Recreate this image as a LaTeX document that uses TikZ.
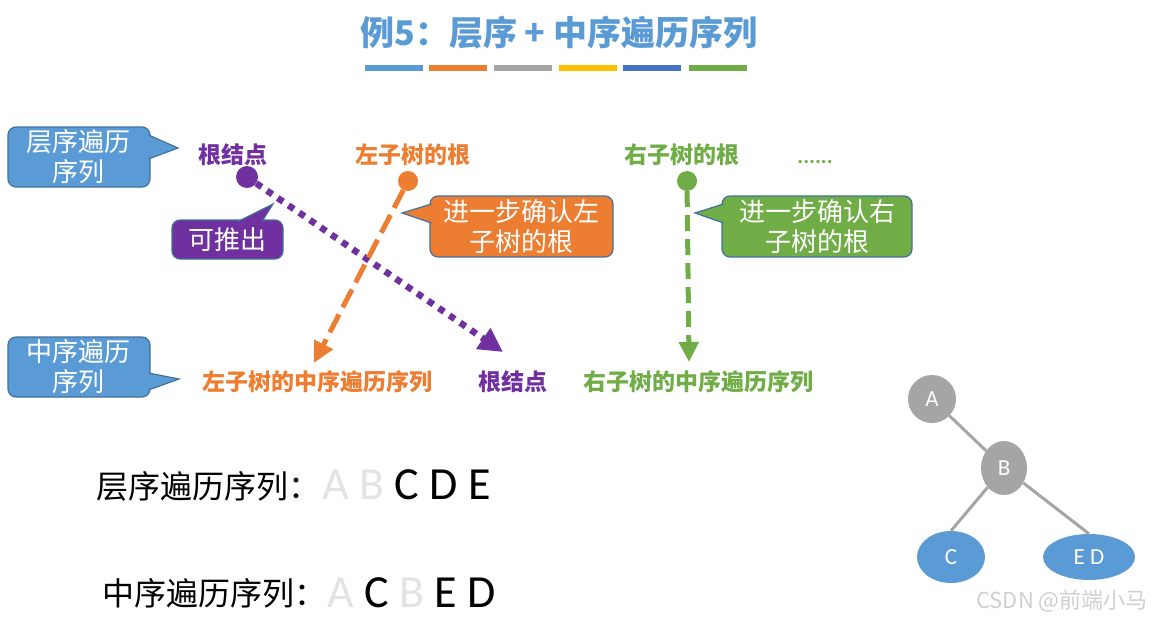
\documentclass[tikz,border=0pt]{standalone}
\usepackage{fontspec}
\setmainfont{Carlito}
\newfontfamily\cjk{Noto Sans CJK SC}
\usetikzlibrary{arrows.meta,shapes.geometric}
\definecolor{cblue}{HTML}{5B9BD5}
\definecolor{corange}{HTML}{ED7D31}
\definecolor{cgray}{HTML}{A5A5A5}
\definecolor{cyellow}{HTML}{FFC000}
\definecolor{cdblue}{HTML}{4472C4}
\definecolor{cgreen}{HTML}{70AD47}
\definecolor{cpurple}{HTML}{7030A0}
\definecolor{cborder}{HTML}{41719C}
\definecolor{clight}{HTML}{E3E3E3}
\definecolor{cwater}{HTML}{CFCFCF}
\begin{document}
\begin{tikzpicture}[x=1pt,y=-1pt,
  box/.style={draw=cborder, line width=1.2pt, rounded corners=8pt, text=white,
    font=\cjk\fontsize{26}{30}\selectfont, align=center, inner sep=0pt},
  ptr/.style={draw=cborder, line width=1.2pt, line join=miter},
  lab/.style={font=\cjk\bfseries\fontsize{23}{23}\selectfont, inner sep=0pt},
  bar/.style={line width=6pt},
  dot/.style={circle, inner sep=0pt},
  tnode/.style={ellipse, inner sep=0pt, text=white, font=\fontsize{23}{23}\selectfont},
  tedge/.style={draw=cgray, line width=3pt},
  bigtxt/.style={font=\cjk\fontsize{32}{32}\selectfont, inner sep=0pt, anchor=base west},
  letters/.style={font=\fontsize{46}{46}\selectfont, inner sep=0pt, anchor=base west}
]
\useasboundingbox (0,0) rectangle (1154,621);

% title
\node[font=\cjk\bfseries\fontsize{34}{34}\selectfont, text=cblue, inner sep=0pt] (title) at (559,33) {例5：层序 + 中序遍历序列};
\draw[bar, cblue]   (365,68) -- (423,68);
\draw[bar, corange] (429,68) -- (487,68);
\draw[bar, cgray]   (494,68) -- (552,68);
\draw[bar, cyellow] (559,68) -- (617,68);
\draw[bar, cdblue]  (623,68) -- (681,68);
\draw[bar, cgreen]  (689,68) -- (747,68);

% callout: level order
\node[box, fill=cblue, minimum width=142pt, minimum height=60pt] (lvl) at (79,157) {层序遍历\\序列};
\coordinate (lvltip) at (178,148);
\fill[cblue] (148.5,135) -- (lvltip) -- (148.5,159) -- cycle;
\draw[ptr] (148.5,135) -- (lvltip) -- (148.5,159);

% callout: in order
\node[box, fill=cblue, minimum width=142pt, minimum height=60pt] (ino) at (79,367) {中序遍历\\序列};
\coordinate (inotip) at (179,379);
\fill[cblue] (148.5,373) -- (inotip) -- (148.5,390) -- cycle;
\draw[ptr] (148.5,373) -- (inotip) -- (148.5,390);

% top labels
\node[lab, text=cpurple] (root1) at (233,155) {根结点};
\node[lab, text=corange] (lroot) at (413,155) {左子树的根};
\node[lab, text=cgreen] (rroot) at (682,155) {右子树的根};
\node[font=\bfseries\fontsize{22}{22}\selectfont, text=cgreen, inner sep=0pt, anchor=base] (more) at (815,163) {......};

% bottom labels
\node[lab, text=corange] (lseq) at (317,382) {左子树的中序遍历序列};
\node[lab, text=cpurple] (root2) at (513,382) {根结点};
\node[lab, text=cgreen] (rseq) at (698,382) {右子树的中序遍历序列};

% dots
\node[dot, fill=cpurple, minimum size=22pt] (pd) at (247,177) {};
\node[dot, fill=corange, minimum size=20pt] (od) at (408,181) {};
\node[dot, fill=cgreen, minimum size=20pt] (gd) at (687,181) {};
\coordinate (ptip) at (503,352);
\coordinate (otip) at (314,363);
\coordinate (gtip) at (689,362);

% arrows
\draw[cpurple, line width=6.5pt, dash pattern=on 6.5pt off 6.5pt,
  -{Triangle[length=24pt,width=24pt]}] (pd) -- (ptip);
\draw[corange, line width=5pt, dash pattern=on 20pt off 8pt,
  -{Triangle[length=21pt,width=20pt]}] (od) -- (otip);
\draw[cgreen, line width=5pt, dash pattern=on 16pt off 8pt,
  -{Triangle[length=20pt,width=19pt]}] (gd) -- (gtip);

% callout: 可推出
\node[box, fill=cpurple, minimum width=111pt, minimum height=39pt] (infer) at (227.5,239.5) {可推出};
\coordinate (infertip) at (273,204);
\fill[cpurple] (238,221.5) -- (infertip) -- (262,221.5) -- cycle;
\draw[ptr] (238,221.5) -- (infertip) -- (262,221.5);

% callout: orange
\node[box, fill=corange, minimum width=183pt, minimum height=61pt] (oc) at (521.5,226.5) {进一步确认左\\子树的根};
\coordinate (octip) at (402,213);
\fill[corange] (431.5,204) -- (octip) -- (431.5,223) -- cycle;
\draw[ptr] (431.5,204) -- (octip) -- (431.5,223);

% callout: green
\node[box, fill=cgreen, minimum width=190pt, minimum height=61pt] (gc) at (817,226.5) {进一步确认右\\子树的根};
\coordinate (gctip) at (695,213);
\fill[cgreen] (723.5,204) -- (gctip) -- (723.5,223) -- cycle;
\draw[ptr] (723.5,204) -- (gctip) -- (723.5,223);

% sequences
\node[bigtxt] (lvllab) at (96,498) {层序遍历序列：};
\node[letters] (lvlseq) at (322,499) {\textcolor{clight}{A} \textcolor{clight}{B} C D E};
\node[bigtxt] (inolab) at (102,605) {中序遍历序列：};
\node[letters] (inoseq) at (327,607) {\textcolor{clight}{A} C \textcolor{clight}{B} E D};

% tree
\node[tnode, fill=cgray, minimum width=48pt, minimum height=48pt] (A) at (932,399) {A};
\node[tnode, fill=cgray, minimum width=46pt, minimum height=54pt] (B) at (1004,468) {B};
\node[tnode, fill=cblue, minimum width=68pt, minimum height=52pt] (C) at (951,557) {C};
\node[tnode, fill=cblue, minimum width=92pt, minimum height=46pt] (ED) at (1089,557) {E D};
\draw[tedge] (A) -- (B);
\draw[tedge] (B) -- (C.north);
\draw[tedge] (B) -- (ED.north);

% watermark
\node[font=\cjk\fontsize{22}{22}\selectfont, text=cwater, inner sep=0pt] (wm) at (1062,601) {CSDN @前端小马};
\end{tikzpicture}
\end{document}
